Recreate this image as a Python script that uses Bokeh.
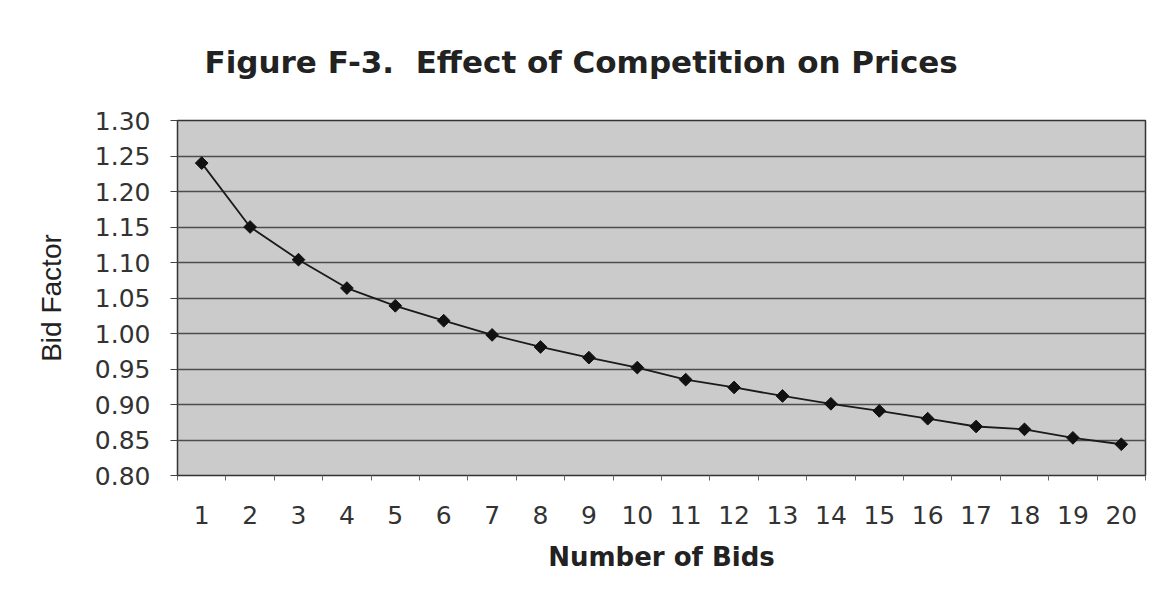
import math
from bokeh.plotting import figure
from bokeh.models import FixedTicker, Range1d, NumeralTickFormatter, Title
from bokeh.embed import file_html
from bokeh.resources import INLINE

bids = list(range(1, 21))
bid_factor = [1.24, 1.15, 1.104, 1.064, 1.039, 1.018, 0.998, 0.981, 0.966, 0.952,
              0.935, 0.924, 0.912, 0.901, 0.891, 0.880, 0.869, 0.865, 0.853, 0.844]
y_ticks = [0.80, 0.85, 0.90, 0.95, 1.00, 1.05, 1.10, 1.15, 1.20, 1.25, 1.30]
title_text = "Figure F-3.\u00a0 Effect of Competition on Prices"

p = figure(width=1150, height=584, output_backend="svg", toolbar_location=None,
           x_range=Range1d(0.5, 20.5), y_range=Range1d(0.80, 1.30),
           min_border_left=177, min_border_right=5, min_border_top=119, min_border_bottom=109)

p.title = Title(text=title_text, align="left", offset=27, standoff=82,
                text_font="DejaVu Sans", text_font_size="31px",
                text_font_style="bold", text_color="#222222")

p.background_fill_color = "#cbcbcb"
p.border_fill_color = "white"
p.outline_line_color = "#333333"
p.outline_line_width = 1.5

p.xgrid.visible = False
p.ygrid.ticker = FixedTicker(ticks=y_ticks)
p.ygrid.grid_line_color = "#4d4d4d"
p.ygrid.grid_line_width = 1.5

ax = p.xaxis[0]
ax.ticker = FixedTicker(ticks=bids, minor_ticks=[b - 0.5 for b in bids] + [20.5])
ax.major_tick_out = 0
ax.major_tick_in = 0
ax.minor_tick_out = 5
ax.minor_tick_in = 0
ax.minor_tick_line_color = "#666666"
ax.axis_line_color = "#333333"
ax.major_label_text_font = "DejaVu Sans"
ax.major_label_text_font_size = "25px"
ax.major_label_text_color = "#333333"
ax.major_label_standoff = 25
ax.axis_label = "Number of Bids"
ax.axis_label_text_font = "DejaVu Sans"
ax.axis_label_text_font_size = "26px"
ax.axis_label_text_font_style = "bold"
ax.axis_label_text_color = "#222222"
ax.axis_label_standoff = 15

ay = p.yaxis[0]
ay.ticker = FixedTicker(ticks=y_ticks)
ay.formatter = NumeralTickFormatter(format="0.00")
ay.major_tick_out = 7
ay.major_tick_in = 0
ay.minor_tick_out = 0
ay.minor_tick_in = 0
ay.major_tick_line_color = "#444444"
ay.axis_line_color = "#333333"
ay.major_label_text_font = "DejaVu Sans"
ay.major_label_text_font_size = "25px"
ay.major_label_text_color = "#333333"
ay.major_label_standoff = 20
ay.axis_label = "Bid Factor"
ay.axis_label_text_font = "Liberation Sans"
ay.axis_label_text_font_size = "28px"
ay.axis_label_text_font_style = "normal"
ay.axis_label_text_color = "#222222"
ay.axis_label_standoff = 25

p.line(bids, bid_factor, line_color="#1a1a1a", line_width=1.8)
p.scatter(bids, bid_factor, marker="square", angle=math.pi / 4, size=9,
          fill_color="#111111", line_color="#111111")

open("out.html", "w").write(file_html(p, INLINE))
